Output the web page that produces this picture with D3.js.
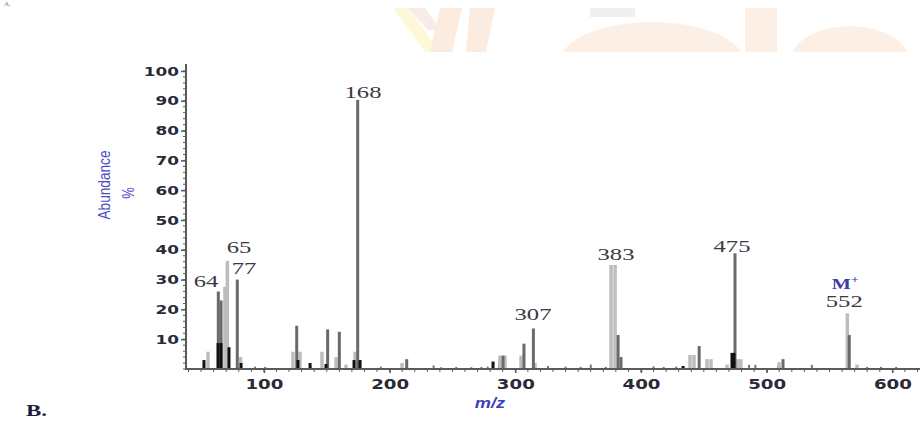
<!DOCTYPE html>
<html>
<head>
<meta charset="utf-8">
<script src="https://cdn.jsdelivr.net/npm/d3@7"></script>
<style>
  html, body { margin: 0; padding: 0; background: #fff; }
  svg { display: block; }
</style>
</head>
<body>
<div id="chart"></div>
<script>
// ---------- DATA ----------
const xTicks = [100, 200, 300, 400, 500, 600];
const yTicks = [10, 20, 30, 40, 50, 60, 70, 80, 90, 100];

// light grey trace: [m/z, abundance %]
const lightMz = [55.5, 69.0, 70.9, 81.4, 123.1, 128.7, 146.2, 157.4, 165.3, 172.5, 209.9, 287.8, 291.8, 304.6, 315.7, 376.2, 379.4, 439.0, 442.2, 452.5, 455.7, 468.5, 477.1, 479.5, 509.9, 564.2, 571.9];
const lightAb = [5.8, 27.6, 36.3, 4.0, 5.8, 5.8, 5.8, 4.0, 1.5, 5.8, 2.0, 4.5, 4.5, 4.5, 2.0, 34.9, 34.9, 4.7, 4.7, 3.3, 3.3, 1.5, 3.3, 3.3, 2.3, 18.7, 1.5];

// mid grey trace
const midMz = [63.7, 65.9, 78.8, 126.1, 150.7, 160.0, 174.6, 213.6, 290.2, 306.9, 314.4, 381.8, 384.1, 446.3, 474.8, 513.0, 565.7];
const midAb = [26.0, 23.0, 30.0, 14.5, 13.3, 12.5, 90.3, 3.3, 4.5, 8.5, 13.6, 11.4, 4.0, 7.7, 38.8, 3.3, 11.4];

// black trace
const darkMz = [52.3, 63.5, 65.9, 72.2, 81.8, 127.1, 136.7, 149.4, 171.7, 176.5, 282.3, 433.5, 472.4, 474.0];
const darkAb = [3.0, 8.7, 8.7, 7.3, 2.0, 3.0, 2.0, 1.7, 3.0, 3.0, 2.5, 1.0, 5.4, 5.4];

// small noise peaks
const noiseMz = [93, 101, 137, 193, 235, 241, 253, 265, 273, 278, 287, 326, 340, 352, 360, 372, 410, 418, 428, 486, 491, 509, 536, 580, 591, 603];
const noiseAb = [0.8, 0.7, 0.9, 0.8, 1.2, 0.6, 0.7, 0.6, 0.7, 0.8, 1.8, 1.0, 0.8, 0.7, 1.5, 0.7, 0.9, 0.7, 0.8, 1.4, 1.4, 1.0, 1.4, 0.7, 0.7, 0.7];

// peak annotations: text, anchor m/z, anchor abundance
const labelText = ["64", "65", "77", "168", "307", "383", "475", "552"];
const labelMz   = [53.9, 80.2, 84.2, 178.8, 314.1, 380.1, 472.4, 561.7];
const labelAb   = [27.6, 39.0, 31.9, 90.9, 16.4, 36.6, 39.3, 20.8];
const ionText = "M";
const ionMz = 562.5;
const ionAb = 26.8;

// ---------- CHART ----------
const W = 922, H = 421;
const svg = d3.select("#chart").append("svg").attr("width", W).attr("height", H);

// faint watermark (decorative background)
const wm = svg.append("g").attr("opacity", 0.4);
wm.append("polygon").attr("points", "393,8 408,8 440,52 425,52").attr("fill", "#fbf2a0");
wm.append("polygon").attr("points", "408,8 425,8 440,30 428,30").attr("fill", "#f2cfc4");
wm.append("polygon").attr("points", "440,8 462,8 452,52 430,52").attr("fill", "#f8d2b0");
wm.append("polygon").attr("points", "470,8 495,8 486,52 466,52").attr("fill", "#f8d2b0");
wm.append("rect").attr("x", 590).attr("y", 8).attr("width", 45).attr("height", 9).attr("fill", "#d8d8d8");
const clip = svg.append("clipPath").attr("id", "wmclip");
clip.append("rect").attr("x", 0).attr("y", 0).attr("width", W).attr("height", 52);
wm.append("ellipse").attr("cx", 652).attr("cy", 62).attr("rx", 92).attr("ry", 40).attr("fill", "#f9dcc2").attr("clip-path", "url(#wmclip)");
wm.append("rect").attr("x", 745).attr("y", 8).attr("width", 32).attr("height", 44).attr("fill", "#f9dcc2");
wm.append("ellipse").attr("cx", 850).attr("cy", 62).attr("rx", 60).attr("ry", 36).attr("fill", "#f9dcc2").attr("clip-path", "url(#wmclip)");

// faint panel letter at top-left
svg.append("text").attr("x", 4).attr("y", 6).attr("font-family", "Liberation Serif").attr("font-weight", "bold")
  .attr("font-size", 7).attr("fill", "#a0a0b4").text("A.");

const x = d3.scaleLinear().domain([38, 622]).range([186, 920]);
const y = d3.scaleLinear().domain([0, 100]).range([369, 71]);

const axisColor = "#5a5a5a";
const tickFont = "DejaVu Sans";
const tickColor = "#2a2a38";

// y axis
const yAxis = d3.axisLeft(y).tickValues(yTicks).tickSize(5).tickPadding(2).tickFormat(d3.format("d"));
const gy = svg.append("g").attr("transform", "translate(186,0)").call(yAxis);
gy.select(".domain").remove();
gy.selectAll(".tick line").attr("stroke", axisColor).attr("stroke-width", 1.5);
gy.selectAll(".tick text").attr("font-family", tickFont).attr("font-weight", "bold").attr("font-size", 13)
  .attr("fill", tickColor)
  .attr("transform", "scale(1.3,1)")
  .attr("x", -7 / 1.3);
// minor y ticks
svg.append("g").selectAll("line").data(d3.range(0, 101, 2)).join("line")
  .attr("x1", 183).attr("x2", 186).attr("y1", d => y(d)).attr("y2", d => y(d))
  .attr("stroke", axisColor).attr("stroke-width", 1);
svg.append("line").attr("x1", 186).attr("x2", 186).attr("y1", 64).attr("y2", 370)
  .attr("stroke", axisColor).attr("stroke-width", 2);

// x axis
const xAxis = d3.axisBottom(x).tickValues(xTicks).tickSize(4).tickPadding(6).tickFormat(d3.format("d"));
const gx = svg.append("g").attr("transform", "translate(0,369)").call(xAxis);
gx.select(".domain").remove();
gx.selectAll(".tick line").attr("stroke", axisColor).attr("stroke-width", 1.5);
gx.selectAll(".tick text").attr("font-family", tickFont).attr("font-weight", "bold").attr("font-size", 14)
  .attr("fill", tickColor).attr("transform", "scale(1.3,1)")
  .attr("x", 0);
// minor x ticks
svg.append("g").selectAll("line").data(d3.range(40, 621, 10)).join("line")
  .attr("x1", d => x(d)).attr("x2", d => x(d)).attr("y1", 369).attr("y2", 372)
  .attr("stroke", axisColor).attr("stroke-width", 1);

// peaks
function drawBars(mz, ab, color, w) {
  svg.append("g").selectAll("rect").data(d3.zip(mz, ab)).join("rect")
    .attr("x", d => x(d[0]) - w / 2)
    .attr("y", d => y(d[1]))
    .attr("width", w)
    .attr("height", d => y(0) - y(d[1]))
    .attr("fill", color);
}
drawBars(noiseMz, noiseAb, "#777", 2);
drawBars(lightMz, lightAb, "#bdbdbd", 3.5);
drawBars(midMz, midAb, "#6a6a6a", 3);
drawBars(darkMz, darkAb, "#111", 3);

svg.append("line").attr("x1", 186).attr("x2", 920).attr("y1", 369).attr("y2", 369)
  .attr("stroke", axisColor).attr("stroke-width", 2);

// peak labels
svg.append("g").selectAll("text").data(d3.zip(labelText, labelMz, labelAb)).join("text")
  .attr("transform", d => "translate(" + x(d[1]) + "," + y(d[2]) + ") scale(1.45,1)")
  .attr("text-anchor", "middle")
  .attr("font-family", "Liberation Serif").attr("font-size", 17).attr("fill", "#3a3a44")
  .text(d => d[0]);

const ion = svg.append("text")
  .attr("transform", "translate(" + x(ionMz) + "," + y(ionAb) + ") scale(1.35,1)")
  .attr("text-anchor", "middle")
  .attr("font-family", "Liberation Serif").attr("font-weight", "bold").attr("font-size", 15).attr("fill", "#3c3ca8");
ion.append("tspan").text(ionText);
ion.append("tspan").attr("dy", -6).attr("font-size", 10).text("+");

// axis titles
svg.append("text").attr("transform", "translate(110,185) rotate(-90) scale(1.05,1.25)")
  .attr("text-anchor", "middle").attr("font-family", "Liberation Sans").attr("font-size", 13)
  .attr("fill", "#4b4bc4").text("Abundance");
svg.append("text").attr("transform", "translate(134,193) rotate(-90) scale(1,1.25)")
  .attr("text-anchor", "middle").attr("font-family", "Liberation Sans").attr("font-size", 13)
  .attr("fill", "#4b4bc4").text("%");
svg.append("text").attr("transform", "translate(490,408) scale(1.3,1)")
  .attr("text-anchor", "middle").attr("font-family", "Liberation Sans").attr("font-style", "italic")
  .attr("font-weight", "bold").attr("font-size", 14).attr("fill", "#4040c0").text("m/z");

svg.append("text").attr("transform", "translate(26,416) scale(1.35,1)")
  .attr("font-family", "Liberation Serif").attr("font-weight", "bold").attr("font-size", 17)
  .attr("fill", "#1c1c40").text("B.");
</script>
</body>
</html>
